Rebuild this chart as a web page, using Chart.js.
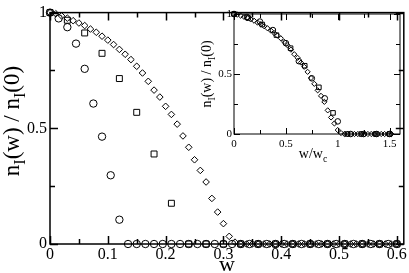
<!DOCTYPE html>
<html>
<head>
<meta charset="utf-8">
<script src="https://cdn.jsdelivr.net/npm/chart.js@4.4.1/dist/chart.umd.min.js"></script>
<style>
  html, body { margin: 0; padding: 0; background: #fff; }
  #wrap { position: relative; width: 409px; height: 273px; overflow: hidden; }
  #main { position: absolute; left: 0; top: 0; }
  #inset { position: absolute; left: 195px; top: 0; }
</style>
</head>
<body>
<div id="wrap">
  <canvas id="main" width="409" height="273"></canvas>
  <canvas id="inset" width="214" height="172"></canvas>
</div>
<script>
// Main panel: n_I(w)/n_I(0) vs w for three data sets
const circleW = [0, 0.015, 0.03, 0.045, 0.06, 0.075, 0.09, 0.105, 0.12, 0.135,
  0.15, 0.165, 0.18, 0.195, 0.21, 0.225, 0.24, 0.255, 0.27, 0.285,
  0.3, 0.315, 0.33, 0.345, 0.36, 0.375, 0.39, 0.405, 0.42, 0.435,
  0.45, 0.465, 0.48, 0.495, 0.51, 0.525, 0.54, 0.555, 0.57, 0.585, 0.6];
const circleN = [1, 0.975, 0.937, 0.866, 0.757, 0.607, 0.464, 0.297, 0.105, 0,
  0, 0, 0, 0, 0, 0, 0, 0, 0, 0,
  0, 0, 0, 0, 0, 0, 0, 0, 0, 0,
  0, 0, 0, 0, 0, 0, 0, 0, 0, 0, 0];

const squareW = [0, 0.03, 0.06, 0.09, 0.12, 0.15, 0.18, 0.21, 0.24, 0.27,
  0.3, 0.33, 0.36, 0.39, 0.42, 0.45, 0.48, 0.51, 0.54, 0.57, 0.6];
const squareN = [1, 0.967, 0.912, 0.824, 0.715, 0.569, 0.389, 0.176, 0, 0,
  0, 0, 0, 0, 0, 0, 0, 0, 0, 0, 0];

const diamondW = [0, 0.01, 0.02, 0.03, 0.04, 0.05, 0.06, 0.07, 0.08, 0.09,
  0.1, 0.11, 0.12, 0.13, 0.14, 0.15, 0.16, 0.17, 0.18, 0.19,
  0.2, 0.21, 0.22, 0.23, 0.24, 0.25, 0.26, 0.27, 0.28, 0.29,
  0.3, 0.31, 0.32, 0.33, 0.34, 0.35, 0.36, 0.37, 0.38, 0.39,
  0.4, 0.41, 0.42, 0.43, 0.44, 0.45, 0.46, 0.47, 0.48, 0.49,
  0.5, 0.51, 0.52, 0.53, 0.54, 0.55, 0.56, 0.57, 0.58, 0.59, 0.6];
const diamondN = [1, 0.995, 0.986, 0.976, 0.965, 0.955, 0.944, 0.929, 0.915, 0.898,
  0.881, 0.862, 0.841, 0.82, 0.797, 0.768, 0.739, 0.703, 0.665, 0.635,
  0.595, 0.56, 0.518, 0.467, 0.418, 0.364, 0.318, 0.268, 0.197, 0.138,
  0.088, 0.033, 0.008, 0, 0, 0, 0, 0, 0, 0,
  0, 0, 0, 0, 0, 0, 0, 0, 0, 0,
  0, 0, 0, 0, 0, 0, 0, 0, 0, 0, 0];

// Inset: same data against w/w_c
const wcCircle = 0.12;
const wcSquare = 0.22;
const wcDiamond = 0.31;
const insetMaxX = 1.52;

// Tick labels / marks
const mainXTicks = [0, 0.1, 0.2, 0.3, 0.4, 0.5, 0.6];
const mainXMinor = [0.05, 0.15, 0.25, 0.35, 0.45, 0.55];
const mainYTicks = [0, 0.5, 1];
const mainYMinor = [0.25, 0.75];
const insetXTicks = [0, 0.5, 1, 1.5];
const insetXMinor = [0.25, 0.75, 1.25];
const insetYTicks = [0, 0.5, 1];
const insetYMinor = [0.25, 0.75];

const SERIF = '"Liberation Serif", "DejaVu Serif", serif';

// Frame with inward ticks on all four sides
const frameTicks = {
  id: 'frameTicks',
  beforeDatasetsDraw(chart, args, o) {
    const { ctx, chartArea: a, scales: { x, y } } = chart;
    ctx.save();
    ctx.strokeStyle = '#000';
    ctx.lineWidth = o.lineWidth;
    ctx.strokeRect(a.left, a.top, a.right - a.left, a.bottom - a.top);
    ctx.beginPath();
    const xm = (vals, len) => vals.forEach(v => {
      const px = Math.round(x.getPixelForValue(v)) + 0.5;
      ctx.moveTo(px, a.bottom); ctx.lineTo(px, a.bottom - len);
      ctx.moveTo(px, a.top); ctx.lineTo(px, a.top + len);
    });
    const ym = (vals, len) => vals.forEach(v => {
      const py = Math.round(y.getPixelForValue(v)) + 0.5;
      ctx.moveTo(a.left, py); ctx.lineTo(a.left + len, py);
      ctx.moveTo(a.right, py); ctx.lineTo(a.right - len, py);
    });
    xm(o.xMajor, o.major); xm(o.xMinor, o.minor);
    ym(o.yMajor, o.major); ym(o.yMinor, o.minor);
    ctx.stroke();
    ctx.restore();
  }
};

// Axis titles with subscripts
function drawRich(ctx, parts, size, cx, cy, angle) {
  ctx.save();
  ctx.translate(cx, cy);
  ctx.rotate(angle);
  ctx.fillStyle = '#000';
  ctx.textAlign = 'left';
  ctx.textBaseline = 'alphabetic';
  const fonts = parts.map(p => (p.sub ? size * 0.7 : size) + 'px ' + SERIF);
  const widths = parts.map((p, i) => { ctx.font = fonts[i]; return ctx.measureText(p.t).width; });
  let x = -widths.reduce((s, w) => s + w, 0) / 2;
  parts.forEach((p, i) => {
    ctx.font = fonts[i];
    ctx.fillText(p.t, x, p.sub ? size * 0.28 : 0);
    x += widths[i];
  });
  ctx.restore();
}

const richTitles = {
  id: 'richTitles',
  afterDraw(chart, args, o) {
    o.items.forEach(it => drawRich(chart.ctx, it.parts, it.size, it.x, it.y, it.angle || 0));
  }
};

const nLabel = [{ t: 'n' }, { t: 'I', sub: true }, { t: '(w) / n' }, { t: 'I', sub: true }, { t: '(0)' }];

function points(ws, ns, wc, maxX) {
  const out = [];
  ws.forEach((w, i) => {
    const x = wc ? w / wc : w;
    if (maxX === undefined || x <= maxX) out.push({ x, y: ns[i] });
  });
  return out;
}

function series(data, style, radius) {
  return {
    data,
    pointStyle: style,
    pointRadius: radius,
    pointBackgroundColor: 'rgba(0,0,0,0)',
    pointBorderColor: '#000',
    pointBorderWidth: 1,
    showLine: false,
    clip: false
  };
}

function axis(min, max, tickVals, size, padding, fitKey, fitVal) {
  return {
    type: 'linear',
    min, max,
    grid: { display: false, drawTicks: false },
    border: { display: false },
    afterBuildTicks: s => { s.ticks = tickVals.map(v => ({ value: v })); },
    afterFit: s => { s[fitKey] = fitVal; },
    ticks: {
      autoSkip: false, maxRotation: 0, padding,
      color: '#000',
      font: { family: SERIF, size },
      callback: v => String(+v.toFixed(2))
    }
  };
}

new Chart(document.getElementById('main'), {
  type: 'scatter',
  data: {
    datasets: [
      series(points(diamondW, diamondN), 'rectRot', 3.3),
      series(points(squareW, squareN), 'rect', 4.2),
      series(points(circleW, circleN), 'circle', 3.7)
    ]
  },
  options: {
    responsive: false,
    animation: false,
    events: [],
    layout: { padding: { top: 5, right: 5, left: 0, bottom: 0 } },
    scales: {
      x: axis(0, 0.612, mainXTicks, 16, 1, 'height', 29),
      y: axis(0, 1, mainYTicks, 16, 3, 'width', 50)
    },
    plugins: {
      legend: { display: false },
      tooltip: { enabled: false },
      frameTicks: { lineWidth: 1.5, major: 8, minor: 5,
        xMajor: mainXTicks, xMinor: mainXMinor, yMajor: mainYTicks, yMinor: mainYMinor },
      richTitles: { items: [
        { parts: [{ t: 'w' }], size: 22, x: 227, y: 271 },
        { parts: nLabel, size: 23, x: 19, y: 121, angle: -Math.PI / 2 }
      ] }
    }
  },
  plugins: [frameTicks, richTitles]
});

new Chart(document.getElementById('inset'), {
  type: 'scatter',
  data: {
    datasets: [
      series(points(diamondW, diamondN, wcDiamond, insetMaxX), 'rectRot', 2.6),
      series(points(squareW, squareN, wcSquare, insetMaxX), 'rect', 3.2),
      series(points(circleW, circleN, wcCircle, insetMaxX), 'circle', 2.8)
    ]
  },
  options: {
    responsive: false,
    animation: false,
    events: [],
    layout: { padding: { top: 14, right: 9, left: 0, bottom: 0 } },
    scales: {
      x: axis(0, 1.6, insetXTicks, 11, 4, 'height', 38),
      y: axis(0, 1, insetYTicks, 11, 2, 'width', 39)
    },
    plugins: {
      legend: { display: false },
      tooltip: { enabled: false },
      frameTicks: { lineWidth: 1, major: 6, minor: 4,
        xMajor: insetXTicks, xMinor: insetXMinor, yMajor: insetYTicks, yMinor: insetYMinor },
      richTitles: { items: [
        { parts: [{ t: 'w/w' }, { t: 'c', sub: true }], size: 14, x: 118, y: 158 },
        { parts: nLabel, size: 14, x: 16, y: 74, angle: -Math.PI / 2 }
      ] }
    }
  },
  plugins: [frameTicks, richTitles]
});
</script>
</body>
</html>
